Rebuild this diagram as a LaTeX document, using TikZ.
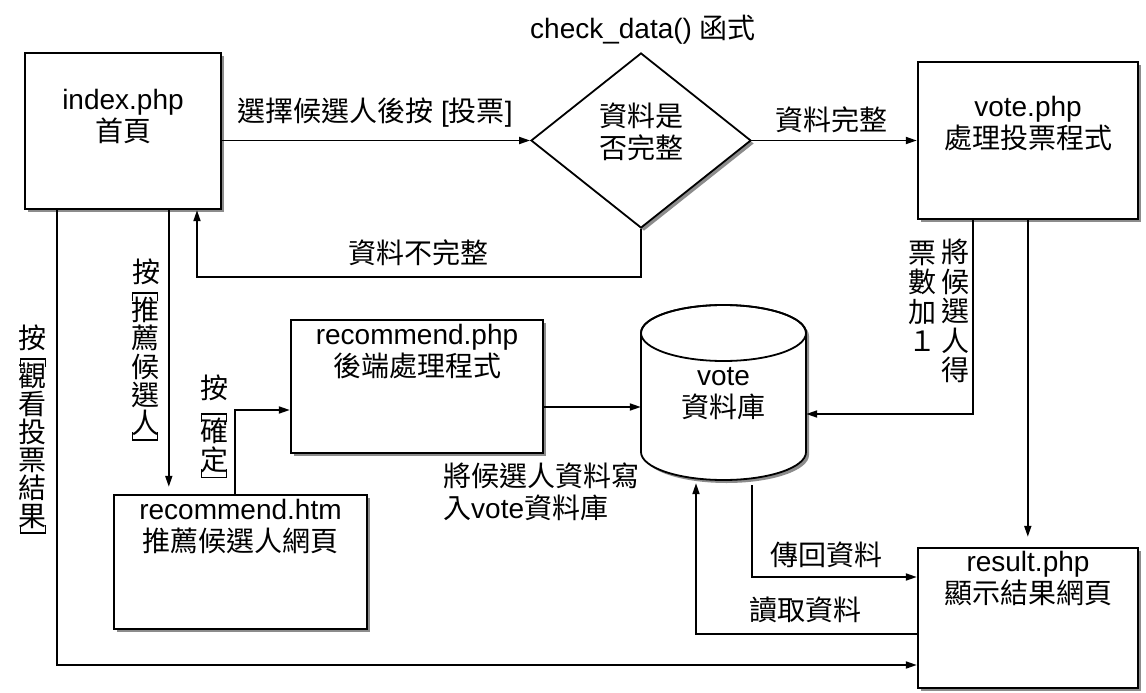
\documentclass[tikz,border=0pt]{standalone}
\usepackage{fontspec}
\setmainfont{Liberation Sans}
\newfontfamily\cjk{Noto Sans CJK TC}
\newcommand\zh[1]{{\cjk #1}}
\usetikzlibrary{arrows.meta,shapes.geometric,shadows}
\tikzset{
  lbl/.style={font={\fontsize{28}{32}\selectfont}, inner sep=0pt, align=center},
  zhl/.style={font={\fontsize{28}{32}\cjk}, inner sep=0pt, align=center},
  vcol/.style={font={\fontsize{28}{#1}\cjk}, inner sep=0pt, align=center},
  vcol/.default=28.5,
  box/.style={draw, line width=2.4pt, fill=white, inner sep=0pt,
    drop shadow={shadow xshift=3pt, shadow yshift=-3pt, opacity=1, fill=black!45}},
  wire/.style={line width=1.8pt},
  arr/.style={line width=1.8pt, -{Triangle[length=11pt,width=7pt]}},
  brk/.style={line width=1.3pt},
}
\newcommand\vbrackets[1]{%
  \draw[brk] ([xshift=2pt,yshift=-4pt]#1.north west) -- ([xshift=2pt,yshift=4pt]#1.north west)
     -- ([xshift=-2pt,yshift=4pt]#1.north east) -- ([xshift=-2pt,yshift=-4pt]#1.north east);
  \draw[brk] ([xshift=2pt,yshift=4pt]#1.south west) -- ([xshift=2pt,yshift=-4pt]#1.south west)
     -- ([xshift=-2pt,yshift=-4pt]#1.south east) -- ([xshift=-2pt,yshift=4pt]#1.south east);}
\begin{document}
\begin{tikzpicture}[x=1pt,y=-1pt]
\useasboundingbox[fill=white] (0,0) rectangle (1146,693);

% boxes
\node[box, minimum width=196pt, minimum height=156pt] (idx) at (123,131) {};
\node[box, diamond, line width=1.8pt, aspect=1.257, minimum width=220pt, minimum height=175pt] (dia) at (641,140.5) {};
\node[box, minimum width=220pt, minimum height=157pt] (vote) at (1028,140.5) {};
\node[box, minimum width=252pt, minimum height=133pt] (rphp) at (417,386.5) {};
\node[box, minimum width=253pt, minimum height=134pt] (rhtm) at (240.5,562) {};
\node[box, minimum width=220pt, minimum height=140pt] (res) at (1028,618) {};

% database cylinder
\begin{scope}[shift={(3,3)}]
  \fill[black!45] (641,333) -- (641,452) arc[start angle=180, end angle=0, x radius=82.5, y radius=28]
    -- (806,333) arc[start angle=0, end angle=-180, x radius=82.5, y radius=28] -- cycle;
\end{scope}
\filldraw[wire, fill=white] (641,333) -- (641,452) arc[start angle=180, end angle=0, x radius=82.5, y radius=28]
    -- (806,333) arc[start angle=0, end angle=-180, x radius=82.5, y radius=28] -- cycle;
\draw[wire] (723.5,333) ellipse[x radius=82.5, y radius=28];
\node[minimum width=165pt, minimum height=175pt, inner sep=0pt] (db) at (723.5,392.5) {};

% texts in shapes
\node[lbl] (idxT) at (123,116) {index.php\\\zh{首頁}};
\node[lbl] (voteT) at (1028,124) {vote.php\\\zh{處理投票程式}};
\node[lbl] (rphpT) at (417,351.5) {recommend.php\\\zh{後端處理程式}};
\node[lbl] (rhtmT) at (240.5,526.5) {recommend.htm\\\zh{推薦候選人網頁}};
\node[lbl] (resT) at (1028,578) {result.php\\\zh{顯示結果網頁}};
\node[zhl] (diaT) at (641,132) {資料是\\否完整};
\node[lbl] (dbT) at (723.5,394) {vote\\\zh{資料庫}};
\node[lbl] (chk) at (643,30) {check\_data() \zh{函式}};

% labels
\node[lbl] (l1) at (375,113) {\zh{選擇候選人後按} [\zh{投票}]};
\node[zhl] (l2) at (831,120) {資料完整};
\node[zhl] (l3) at (418,253) {資料不完整};
\node[zhl] (l4) at (826,555) {傳回資料};
\node[zhl] (l5) at (805,610) {讀取資料};
\node[lbl, align=left, anchor=west] (l6) at (443,492) {\zh{將候選人資料寫}\\\zh{入}vote\zh{資料庫}};

% vertical labels
\node[zhl] (a0) at (33,338) {按};
\node[vcol=28] (a1) at (33,446) {觀\\看\\投\\票\\結\\果};
\node[zhl] (b0) at (146,272) {按};
\node[vcol=28.3] (b1) at (145,366.5) {推\\薦\\候\\選\\人};
\node[zhl] (c0) at (214,388) {按};
\node[vcol=29] (c1) at (214,445.5) {確\\定};
\node[vcol=29.5] (d1) at (955,311) {將\\候\\選\\人\\得};
\node[vcol=29.5] (e1) at (922,296.5) {票\\數\\加\\１};
\vbrackets{a1}
\vbrackets{b1}
\vbrackets{c1}

% connectors
\draw[arr] (idx.east |- dia.west) -- (dia.west);
\draw[arr] (dia.east) -- (dia.east -| vote.west);
\coordinate (k1) at (641,277);
\coordinate (k2) at (197,277);
\draw[arr] (dia.south) -- (k1) -- (k2) -- (k2 |- idx.south);
\draw[arr, shorten >=7pt] ([xshift=145pt]idx.south west) -- ([xshift=145pt]idx.south west |- rhtm.north);
\coordinate (k4) at (57,665);
\draw[arr] (k4 |- idx.south) -- (k4) -- (k4 -| res.west);
\coordinate (k5) at (235,410);
\draw[arr] (k5 |- rhtm.north) -- (k5) -- (k5 -| rphp.west);
\coordinate (k6) at (543,407);
\draw[arr] (k6 -| rphp.east) -- (k6 -| db.west);
\coordinate (k7) at (973,414);
\draw[arr] (k7 |- vote.south) -- (k7) -- (k7 -| db.east);
\draw[arr, shorten >=10pt] ([xshift=111pt]vote.south west) -- ([xshift=111pt]res.north west);
\coordinate (k8a) at (752,485);
\coordinate (k8) at (752,577);
\draw[arr] (k8a) -- (k8) -- (k8 -| res.west);
\coordinate (k9) at (696,634);
\draw[arr, shorten >=3pt] (k9 -| res.west) -- (k9) -- (k9 |- db.south);
\end{tikzpicture}
\end{document}
